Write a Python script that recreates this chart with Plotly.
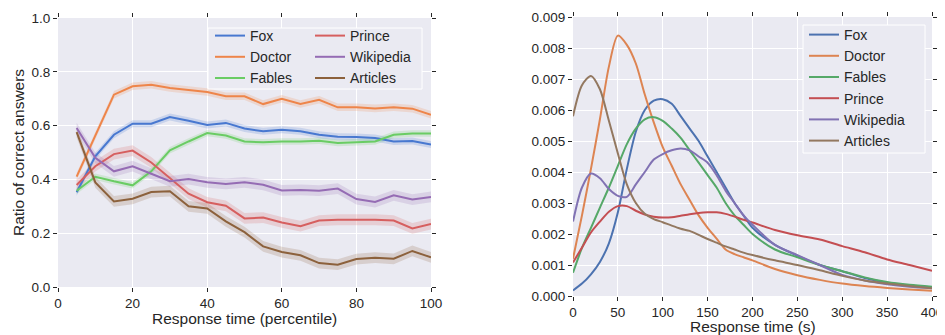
import plotly.graph_objects as go

# ---------------- data ----------------
series_names = ["Fox", "Doctor", "Fables", "Prince", "Wikipedia", "Articles"]

# Left panel: ratio of correct answers vs response-time percentile
pct_x = [5, 10, 15, 20, 25, 30, 35, 40, 45, 50, 55, 60, 65, 70, 75, 80, 85, 90, 95, 100]
fox_ratio = [0.352, 0.486, 0.566, 0.607, 0.607, 0.632, 0.618, 0.602, 0.610, 0.589,
             0.579, 0.585, 0.579, 0.566, 0.559, 0.558, 0.554, 0.541, 0.543, 0.530]
doctor_ratio = [0.410, 0.560, 0.715, 0.746, 0.752, 0.740, 0.733, 0.725, 0.709, 0.709,
                0.680, 0.700, 0.680, 0.696, 0.668, 0.668, 0.664, 0.668, 0.663, 0.640]
fables_ratio = [0.358, 0.410, 0.393, 0.378, 0.430, 0.508, 0.541, 0.572, 0.563, 0.541,
                0.538, 0.541, 0.541, 0.544, 0.535, 0.538, 0.541, 0.566, 0.571, 0.571]
prince_ratio = [0.379, 0.449, 0.494, 0.507, 0.463, 0.405, 0.347, 0.315, 0.302, 0.255,
                0.258, 0.240, 0.226, 0.247, 0.250, 0.250, 0.250, 0.247, 0.218, 0.234]
wikipedia_ratio = [0.591, 0.480, 0.430, 0.449, 0.421, 0.393, 0.401, 0.389, 0.383, 0.389,
                   0.380, 0.359, 0.361, 0.358, 0.366, 0.327, 0.316, 0.341, 0.325, 0.335]
articles_ratio = [0.576, 0.389, 0.318, 0.328, 0.353, 0.356, 0.300, 0.292, 0.244, 0.204,
                  0.151, 0.130, 0.118, 0.089, 0.083, 0.104, 0.109, 0.105, 0.134, 0.110]
ratio_band_halfwidth = [0.013, 0.014, 0.012, 0.020, 0.020, 0.020]

# Right panel: density of response time (s)
time_x = [0, 10, 20, 30, 40, 50, 60, 70, 80, 90, 100, 110, 120, 130, 140, 150, 160, 170,
          180, 190, 200, 225, 250, 275, 300, 325, 350, 375, 400]
fox_density = [0.00018, 0.0004, 0.0007, 0.0011, 0.0017, 0.0027, 0.0041, 0.0053, 0.0060,
               0.0063, 0.00635, 0.0062, 0.0058, 0.0054, 0.0050, 0.0045, 0.0040, 0.0035,
               0.0030, 0.0026, 0.0022, 0.00165, 0.0013, 0.0010, 0.0008, 0.00058, 0.00043,
               0.00034, 0.00028]
doctor_density = [0.0012, 0.0026, 0.0041, 0.0057, 0.0074, 0.0084, 0.0081, 0.0075, 0.0065,
                  0.0056, 0.0048, 0.0042, 0.0036, 0.0031, 0.0026, 0.0022, 0.00185, 0.0015,
                  0.00135, 0.00125, 0.00115, 0.00087, 0.00067, 0.00052, 0.0004, 0.00032,
                  0.00026, 0.00021, 0.00017]
fables_density = [0.00075, 0.00155, 0.0022, 0.00285, 0.0035, 0.0042, 0.0049, 0.0054, 0.0057,
                  0.00577, 0.00565, 0.0054, 0.0051, 0.0047, 0.0043, 0.0039, 0.0035, 0.0030,
                  0.0026, 0.0023, 0.0020, 0.0015, 0.00125, 0.0010, 0.0008, 0.0006, 0.00045,
                  0.00036, 0.0003]
prince_density = [0.00108, 0.00156, 0.00205, 0.0024, 0.00272, 0.0029, 0.0029, 0.00275,
                  0.00263, 0.00256, 0.00253, 0.00254, 0.00259, 0.00264, 0.00268, 0.0027,
                  0.0027, 0.00265, 0.00256, 0.00246, 0.00237, 0.00213, 0.00196, 0.00182,
                  0.00161, 0.00141, 0.00118, 0.0010, 0.00081]
wikipedia_density = [0.0024, 0.0035, 0.00395, 0.0038, 0.00345, 0.00323, 0.0032, 0.0036,
                     0.0040, 0.0044, 0.00458, 0.0047, 0.00476, 0.0047, 0.0045, 0.0043,
                     0.0039, 0.0034, 0.0030, 0.0026, 0.0023, 0.00165, 0.00132, 0.0010,
                     0.00068, 0.0005, 0.00038, 0.0003, 0.00025]
articles_density = [0.0058, 0.0068, 0.0071, 0.00667, 0.00565, 0.0046, 0.0036, 0.0030,
                    0.00265, 0.00248, 0.00238, 0.00227, 0.00217, 0.0021, 0.00197, 0.00184,
                    0.00172, 0.0016, 0.0015, 0.0014, 0.00132, 0.00115, 0.0010, 0.00083,
                    0.00065, 0.0005, 0.0004, 0.00032, 0.00025]

left_ticks = [0, 20, 40, 60, 80, 100]
left_yticks = [0.0, 0.2, 0.4, 0.6, 0.8, 1.0]
right_ticks = [0, 50, 100, 150, 200, 250, 300, 350, 400]
right_yticks = [0.000, 0.001, 0.002, 0.003, 0.004, 0.005, 0.006, 0.007, 0.008, 0.009]

left_xtitle = "Response time (percentile)"
left_ytitle = "Ratio of correct answers"
right_xtitle = "Response time (s)"

muted_colors = ["#4878D0", "#EE854A", "#6ACC64", "#D65F5F", "#956CB4", "#8C613C"]
deep_colors = ["#4C72B0", "#DD8452", "#55A868", "#C44E52", "#8172B3", "#937860"]
left_legend_column = ["legend", "legend", "legend", "legend3", "legend3", "legend3"]

ratios = [fox_ratio, doctor_ratio, fables_ratio, prince_ratio, wikipedia_ratio, articles_ratio]
densities = [fox_density, doctor_density, fables_density, prince_density,
             wikipedia_density, articles_density]

# ---------------- figure ----------------
W, H = 945, 335
OFF = 8  # the page body margin shifts the figure by this many pixels
FONT = "Liberation Sans, Arial, sans-serif"
TXT = "#262626"
BG = "#EAEAF2"


def fx(p):
    return (p - OFF) / W


def fy(p):
    return (H - (p - OFF)) / H


def rgba(hex_color, a):
    h = hex_color.lstrip("#")
    r, g, b = int(h[0:2], 16), int(h[2:4], 16), int(h[4:6], 16)
    return f"rgba({r},{g},{b},{a})"


fig = go.Figure()

# Left panel bands + lines
for name, vals, col, hw in zip(series_names, ratios, muted_colors, ratio_band_halfwidth):
    upper = [v + hw for v in vals]
    lower = [v - hw for v in vals]
    fig.add_trace(go.Scatter(
        x=pct_x + pct_x[::-1], y=upper + lower[::-1],
        fill="toself", fillcolor=rgba(col, 0.2), line=dict(width=0),
        hoverinfo="skip", showlegend=False, xaxis="x", yaxis="y"))
for name, vals, col, lg in zip(series_names, ratios, muted_colors, left_legend_column):
    fig.add_trace(go.Scatter(
        x=pct_x, y=vals, mode="lines", name=name,
        line=dict(color=col, width=2), legend=lg,
        xaxis="x", yaxis="y"))

# Right panel density curves
for name, vals, col in zip(series_names, densities, deep_colors):
    fig.add_trace(go.Scatter(
        x=time_x, y=vals, mode="lines", name=name,
        line=dict(color=col, width=2, shape="spline", smoothing=0.8),
        legend="legend2", xaxis="x2", yaxis="y2"))

axis_common = dict(
    showgrid=True, gridcolor="white", gridwidth=1.3, zeroline=False,
    showline=False, ticks="outside", ticklen=4, tickwidth=1, tickcolor=TXT,
    mirror="ticks", tickfont=dict(family=FONT, size=13.5, color=TXT),
    automargin=False,
)

legend_common = dict(
    xref="container", yref="container", xanchor="left", yanchor="top",
    orientation="v", bgcolor="rgba(0,0,0,0)", borderwidth=0,
    font=dict(family=FONT, size=14, color=TXT), traceorder="normal",
)

# legend frames (drawn over the plot, under the legend entries)
legend_boxes = [(208, 28, 422, 89), (803, 25, 925, 153)]
shapes = [
    dict(type="rect", xref="paper", yref="paper",
         x0=fx(x0), x1=fx(x1), y0=fy(y1), y1=fy(y0),
         fillcolor=BG, line=dict(color="white", width=1), layer="above")
    for (x0, y0, x1, y1) in legend_boxes
]

title_font = dict(family=FONT, size=15.5, color=TXT)
annotations = [
    dict(text=left_xtitle, xref="paper", yref="paper", x=fx(244.5), y=fy(318),
         xanchor="center", yanchor="middle", showarrow=False, font=title_font),
    dict(text=right_xtitle, xref="paper", yref="paper", x=fx(752.5), y=fy(326),
         xanchor="center", yanchor="middle", showarrow=False, font=title_font),
    dict(text=left_ytitle, xref="paper", yref="paper", x=fx(18), y=fy(153),
         xanchor="center", yanchor="middle", textangle=-90, showarrow=False,
         font=title_font),
]

fig.update_layout(
    width=W, height=H,
    margin=dict(l=0, r=0, t=0, b=0, autoexpand=False),
    paper_bgcolor="white",
    plot_bgcolor=BG,
    font=dict(family=FONT, color=TXT),
    shapes=shapes,
    annotations=annotations,
    xaxis=dict(domain=[fx(58), fx(431)], range=[0, 100], tickvals=left_ticks,
               anchor="y", **axis_common),
    yaxis=dict(domain=[fy(287), fy(18)], range=[0, 1], tickvals=left_yticks,
               tickformat=".1f", anchor="x", **axis_common),
    xaxis2=dict(domain=[fx(573), fx(932)], range=[0, 400], tickvals=right_ticks,
                anchor="y2", **axis_common),
    yaxis2=dict(domain=[fy(296), fy(17)], range=[0, 0.009], tickvals=right_yticks,
                tickformat=".3f", anchor="x2", **axis_common),
    legend=dict(x=fx(210), y=fy(20), **legend_common),
    legend3=dict(x=fx(310), y=fy(20), **legend_common),
    legend2=dict(x=fx(804), y=fy(19), **legend_common),
)

fig.write_html("out.html")
